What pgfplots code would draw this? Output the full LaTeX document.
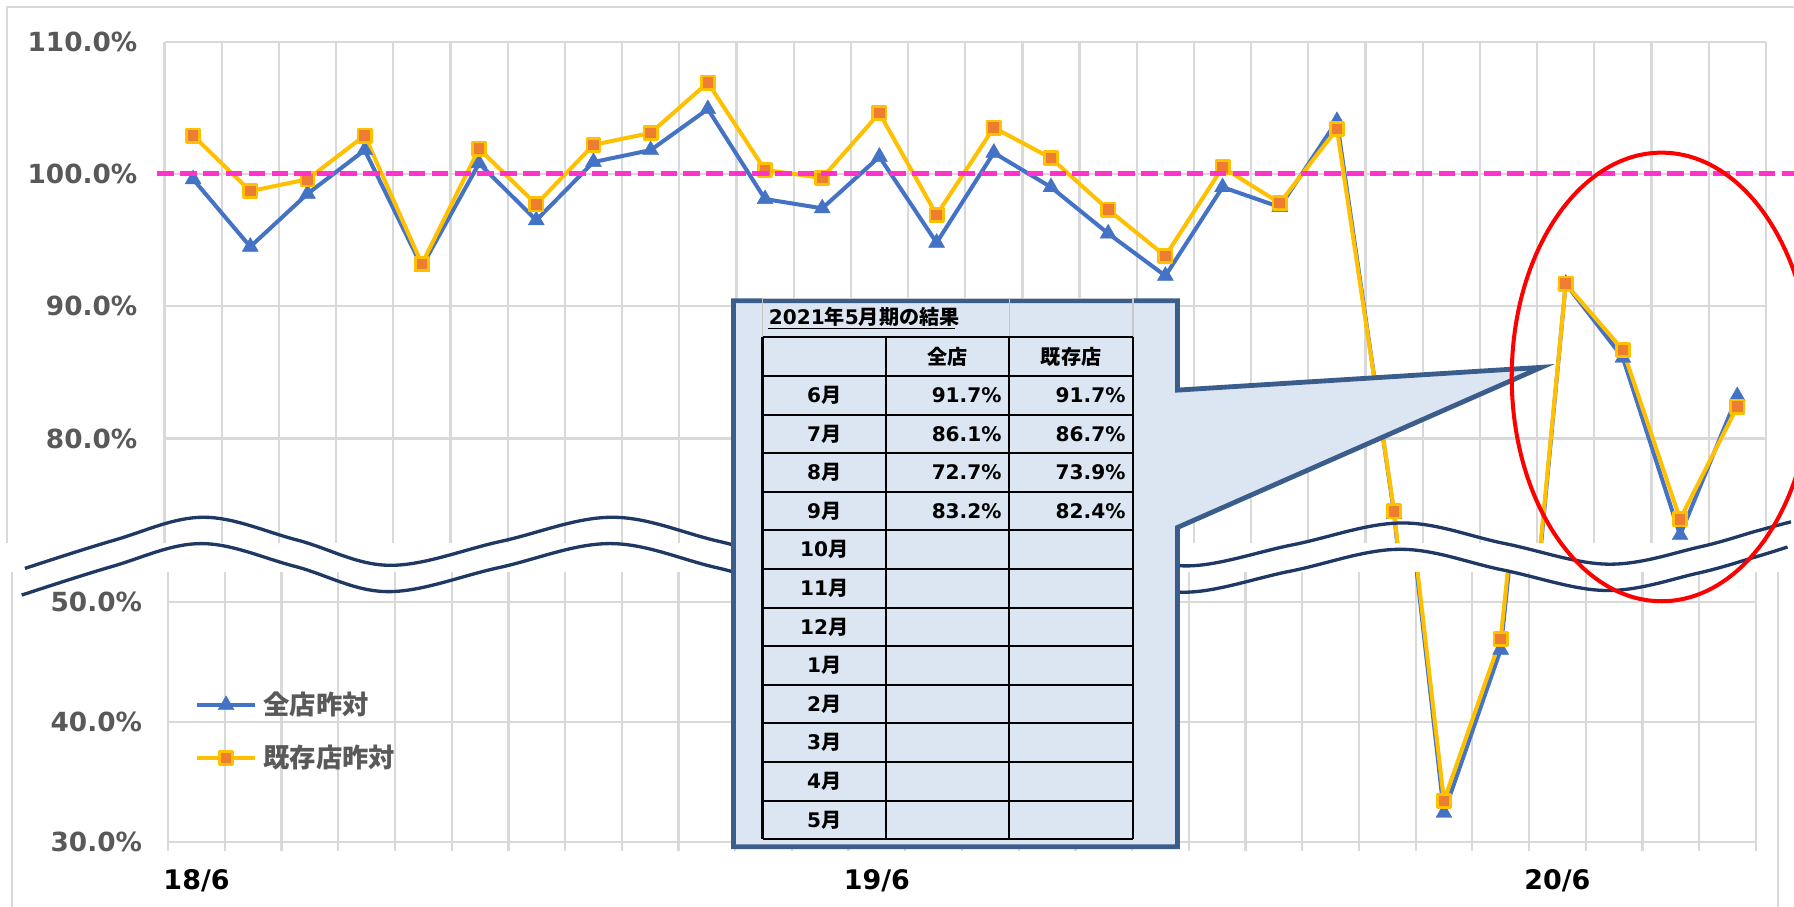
\documentclass[border=0pt]{standalone}
\usepackage{fontspec}
\setmainfont{DejaVu Sans}
\newfontfamily\jp{Noto Sans CJK JP}
\usepackage{pgfplots}
\pgfplotsset{compat=1.18}
\usepackage{pgfplotstable}
\definecolor{blueS}{RGB}{68,114,196}
\definecolor{goldS}{RGB}{255,192,0}
\definecolor{orangeS}{RGB}{237,125,49}
\definecolor{gridgray}{RGB}{217,217,217}
\definecolor{textgray}{RGB}{89,89,89}
\definecolor{pinkL}{RGB}{255,51,204}
\definecolor{navyW}{RGB}{32,56,100}
\definecolor{calloutFill}{RGB}{220,230,242}
\definecolor{calloutEdge}{RGB}{59,93,140}

\pgfplotstableread{
x all exist
0 99.6 102.9
1 94.5 98.7
2 98.5 99.6
3 101.8 102.9
4 93.0 93.2
5 100.8 101.9
6 96.5 97.7
7 100.9 102.2
8 101.8 103.1
9 104.9 106.9
10 98.1 100.3
11 97.4 99.7
12 101.3 104.6
13 94.8 96.9
14 101.6 103.5
15 99.0 101.2
16 95.5 97.3
17 92.3 93.8
18 99.0 100.5
19 97.5 97.8
20 104.0 103.4
21 74.3 74.5
22 32.4 33.4
23 46.0 46.9
24 91.7 91.7
25 86.1 86.7
26 72.7 73.9
27 83.2 82.4
}\data

\pgfplotsset{
  brk/.style={
    scale only axis, anchor=south west,
    xmin=-0.5, xmax=27.5,
    axis line style={draw=none},
    major tick length=0pt,
    minor xtick={-0.5,0.5,...,27.5},
    xminorgrids=true, ymajorgrids=true,
    major grid style={draw=gridgray, line width=1.1pt},
    minor grid style={draw=gridgray, line width=1.1pt},
    tick style={draw=gridgray, line width=1.1pt},
    ytick pos=left, xtick pos=bottom,
    yticklabel style={anchor=east, inner sep=0pt, text=textgray, font=\fontsize{13.1}{15}\selectfont\bfseries},
  },
  allS/.style={blueS, line width=2pt, line join=round, mark=triangle*, mark size=4.6pt, mark options={fill=blueS, draw=blueS, line width=0.2pt, solid}},
  exS/.style={goldS, line width=2pt, line join=round, mark=square*, mark size=3.3pt, mark options={fill=orangeS, draw=goldS, line width=1.3pt, solid}},
}

\begin{document}
\begin{tikzpicture}
\useasboundingbox (0,0) rectangle (31.36cm,15.84cm);
\fill[white] (0,0) rectangle (31.36cm,15.84cm);
\begin{scope}[x=0.02cm, y=-0.02cm, shift={(0cm,15.84cm)}]
  \draw[gridgray, line width=1.1pt] (6,474.3) -- (6,6.4) -- (1575,6.4);
  \draw[gridgray, line width=1.1pt] (10.7,500) -- (10.7,800);
  \draw[gridgray, line width=1.1pt] (1554,500) -- (1554,800);
\end{scope}

% upper chart
\begin{axis}[brk, at={(2.876cm,6.354cm)}, width=27.992cm, height=8.758cm,
  ymin=72.13, ymax=110, ytick={80,90,100,110},
  yticklabels={80.0\%,90.0\%,100.0\%,110.0\%},
  yticklabel style={xshift=-0.468cm},
  xtick={0,12,24}, xticklabels={,,}, minor tick length=0pt]
  \addplot[allS] table[x=x, y=all] {\data};
  \addplot[exS] table[x=x, y=exist] {\data};
  \coordinate (pinkstart) at (axis cs:-0.5,100);
\end{axis}

% lower chart
\begin{axis}[brk, at={(2.94cm,1.128cm)}, width=27.752cm, height=4.712cm,
  ymin=30, ymax=52.47, ytick={30,40,50},
  yticklabels={30.0\%,40.0\%,50.0\%},
  yticklabel style={xshift=-0.45cm},
  xtick={0,12,24}, xticklabels={18/6,19/6,20/6},
  xticklabel style={anchor=north, inner sep=0pt, yshift=-0.488cm, text=black, font=\fontsize{13.4}{15}\selectfont\bfseries},
  tick align=outside, minor tick length=0.17cm,
  legend style={at={(0.01694,0.5556)}, anchor=north west, draw=none, fill=none,
    font=\fontsize{13.1}{15}\selectfont\jp\bfseries, text=textgray,
    row sep=0.48cm, column sep=0.12cm, inner sep=0pt, nodes={inner sep=0pt}},
  legend cell align=left,
  legend image code/.code={\draw[mark repeat=2, mark phase=2, #1] plot coordinates {(0cm,0cm) (0.5cm,0cm) (1.0cm,0cm)};}]
  \addplot[allS] table[x=x, y=all] {\data};
  \addlegendentry{全店昨対}
  \addplot[exS] table[x=x, y=exist] {\data};
  \addlegendentry{既存店昨対}
\end{axis}

\draw[pinkL, line width=2.5pt, dash pattern=on 0.29cm off 0.11cm] ([xshift=-0.13cm]pinkstart) -- ++(29cm,0);

\begin{scope}[x=0.02cm, y=-0.02cm, shift={(0cm,15.84cm)}]
  % break waves
  \draw[navyW, line width=1.65pt] plot[smooth, tension=0.6] coordinates {
    (21.8,496.7) (100,472) (178,452) (260,472) (341,494) (438,473) (535,452)
    (628,473) (720,494) (800,473) (880,452) (960,473) (1035,494.5)
    (1130,476) (1225,457) (1315,475) (1405,493) (1485,478) (1535,464) (1565,456)};
  \draw[navyW, line width=1.65pt] plot[smooth, tension=0.6] coordinates {
    (19,520) (98,495) (176,475) (258,495) (339,517) (436,496) (533,475)
    (626,496) (718,517) (798,496) (878,475) (958,496) (1033,517.5)
    (1128,499) (1223,480) (1313,498) (1403,516) (1483,501) (1533,487) (1562,478)};
  % callout
  \draw[calloutEdge, fill=calloutFill, line width=2.4pt, line join=miter]
    (641,262.8) -- (1029,262.8) -- (1029,340.9) -- (1346.8,321) -- (1029,460.9)
    -- (1029,740) -- (641,740) -- cycle;
  % sheet grid in title row
  \draw[gridgray!80!gray, line width=0.6pt] (666.3,294.8) -- (666.3,260.7) -- (990,260.7) -- (990,294.8);
  \draw[gridgray!80!gray, line width=0.6pt] (882,260.7) -- (882,294.8);
  % table grid
  \foreach \k in {0,...,13} \draw[black, line width=1pt] (666.3,{294.8+33.73*\k}) -- (990,{294.8+33.73*\k});
  \foreach \xx in {666.3,774,882,990} \draw[black, line width=1pt] (\xx,294.8) -- (\xx,733.3);
  % table text
  \begin{scope}[every node/.style={font=\fontsize{10}{12}\selectfont\bfseries, text=black, inner sep=0pt}]
    \node[anchor=base west] at (671.5,284) {2021{\jp 年}5{\jp 月期の結果}};
    \draw[black, line width=0.8pt] (671.5,287) -- (834.7,287);
    \node at (828,311.7) {\jp 全店};
    \node at (936,311.7) {\jp 既存店};
    \foreach \m [count=\i] in {6,7,8,9,10,11,12,1,2,3,4,5}
      \node at (720.2,{294.8+33.73*\i+16.865}) {\m{\jp 月}};
    \node[anchor=east] at (875.5,345.4) {91.7\%};
    \node[anchor=east] at (875.5,379.1) {86.1\%};
    \node[anchor=east] at (875.5,412.9) {72.7\%};
    \node[anchor=east] at (875.5,446.6) {83.2\%};
    \node[anchor=east] at (983.8,345.4) {91.7\%};
    \node[anchor=east] at (983.8,379.1) {86.7\%};
    \node[anchor=east] at (983.8,412.9) {73.9\%};
    \node[anchor=east] at (983.8,446.6) {82.4\%};
  \end{scope}
  % red ellipse
  \draw[red, line width=2pt] (1452,329.4) ellipse [x radius=131, y radius=196];
\end{scope}
\end{tikzpicture}
\end{document}
